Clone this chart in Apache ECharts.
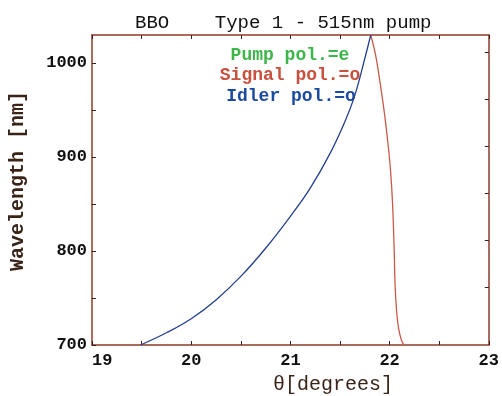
<!DOCTYPE html>
<html>
<head>
<meta charset="utf-8">
<script src="https://cdn.jsdelivr.net/npm/echarts@6/dist/echarts.min.js"></script>
<style>html,body{margin:0;padding:0;background:#fff;}#c{width:502px;height:396px;}</style>
</head>
<body>
<div id="c"></div>
<script>
// Idler branch (blue): [theta (deg), wavelength (nm)]
var idlerTheta = [19.49, 19.75, 20.0, 20.25, 20.5, 20.75, 21.0, 21.2, 21.4, 21.55, 21.65, 21.75, 21.81];
var idlerWl    = [700,   713,   728,  748,   773,  803,   837,  867,  904,  938,   966,   1005,  1030];
// Signal branch (red)
var signalTheta = [21.81, 21.86, 21.91, 21.95, 21.98, 22.01, 22.03, 22.045, 22.055, 22.07, 22.09, 22.12, 22.145];
var signalWl    = [1030,  1008,  975,   945,   918,   885,   850,   805,    765,    737,   718,   705,   700];
var xTicks = [19, 20, 21, 22, 23];
var yTicks = [700, 800, 900, 1000];
var rightTicks = [762, 812, 862, 912, 962, 1012];
var titleText = 'BBO    Type 1 - 515nm pump';
var legendLines = ['Pump pol.=e', 'Signal pol.=o', 'Idler pol.=o'];
var legendColors = ['#3cb54a', '#c8503c', '#1c4aa0'];

function zip(a, b) { return a.map(function (v, i) { return [v, b[i]]; }); }

var FONT = '"Liberation Mono", "DejaVu Sans Mono", monospace';
var frameColor = '#8e3b28';
var tickColor = '#3a2018';

var chart = echarts.init(document.getElementById('c'), null, {renderer: 'canvas'});

var option = {
  backgroundColor: '#ffffff',
  animation: false,
  grid: {left: 92, right: 10, top: 35, bottom: 51, containLabel: false},
  xAxis: [{
    type: 'value', min: 19, max: 23, interval: 0.5, position: 'bottom',
    axisLine: {show: true, onZero: false, lineStyle: {color: frameColor, width: 1.5}},
    axisTick: {show: true, inside: true, length: 4, lineStyle: {color: tickColor, width: 1}},
    splitLine: {show: false},
    axisLabel: {
      margin: 7, color: '#111', fontFamily: FONT, fontSize: 17, fontWeight: 'bold',
      alignMinLabel: 'left',
      formatter: function (v) { return xTicks.indexOf(v) >= 0 ? String(v) : ''; }
    }
  }, {
    type: 'value', min: 19, max: 23, interval: 0.5, position: 'top',
    axisLine: {show: true, onZero: false, lineStyle: {color: frameColor, width: 1.5}},
    axisTick: {show: true, inside: true, length: 4, lineStyle: {color: tickColor, width: 1}},
    splitLine: {show: false}, axisLabel: {show: false}
  }],
  yAxis: [{
    type: 'value', min: 700, max: 1030, interval: 50, position: 'left',
    axisLine: {show: true, onZero: false, lineStyle: {color: frameColor, width: 1.5}},
    axisTick: {show: true, inside: true, length: 4, lineStyle: {color: tickColor, width: 1}},
    splitLine: {show: false},
    axisLabel: {
      margin: 5, color: '#111', fontFamily: FONT, fontSize: 17, fontWeight: 'bold',
      showMaxLabel: false,
      formatter: function (v) { return yTicks.indexOf(v) >= 0 ? String(v) : ''; }
    }
  }, {
    type: 'value', min: 700, max: 1030, position: 'right',
    axisLine: {show: true, onZero: false, lineStyle: {color: frameColor, width: 1.5}},
    axisTick: {show: true, inside: true, length: 4, customValues: rightTicks, lineStyle: {color: tickColor, width: 1}},
    splitLine: {show: false}, axisLabel: {show: false}
  }],
  series: [{
    name: 'Signal', type: 'line', data: zip(signalTheta, signalWl),
    showSymbol: false, smooth: 0.4, clip: true,
    lineStyle: {color: '#c85a48', width: 1.3}
  }, {
    name: 'Idler', type: 'line', data: zip(idlerTheta, idlerWl),
    showSymbol: false, smooth: 0.4, clip: true,
    lineStyle: {color: '#22408c', width: 1.3}
  }],
  graphic: [
    {type: 'text', left: 135, top: 13, style: {text: titleText, fill: '#111', font: '19px ' + FONT}},
    {type: 'text', x: 290, y: 55, style: {text: legendLines[0], fill: legendColors[0], font: 'bold 18px ' + FONT, align: 'center', verticalAlign: 'middle'}},
    {type: 'text', x: 290, y: 75, style: {text: legendLines[1], fill: legendColors[1], font: 'bold 18px ' + FONT, align: 'center', verticalAlign: 'middle'}},
    {type: 'text', x: 291, y: 96, style: {text: legendLines[2], fill: legendColors[2], font: 'bold 18px ' + FONT, align: 'center', verticalAlign: 'middle'}},
    {type: 'text', x: 18, y: 181, rotation: Math.PI / 2, style: {text: 'Wavelength [nm]', fill: '#3a2418', font: 'bold 20px ' + FONT, align: 'center', verticalAlign: 'middle'}},
    {type: 'text', x: 333, y: 385, style: {text: '\u03b8[degrees]', fill: '#3a2418', font: '20px ' + FONT, align: 'center', verticalAlign: 'middle'}}
  ]
};
chart.setOption(option);
</script>
</body>
</html>
